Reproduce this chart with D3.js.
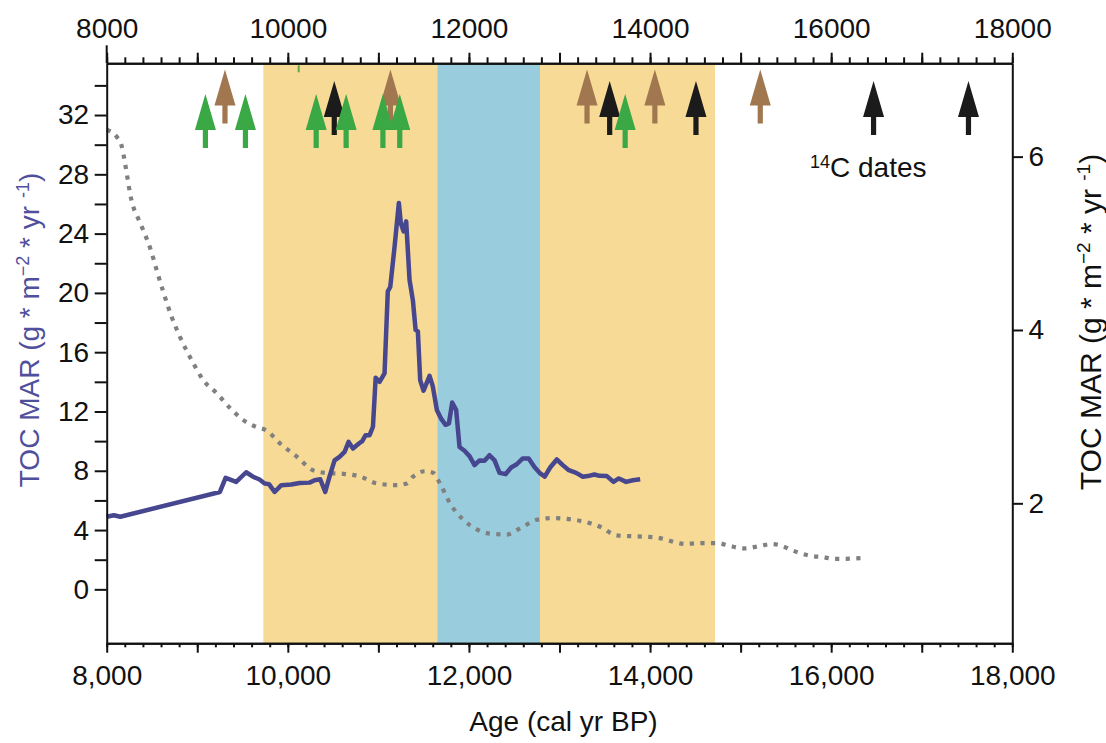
<!DOCTYPE html>
<meta charset="utf-8">
<script src="https://d3js.org/d3.v7.min.js"></script>
<html>
<head>
  <title>TOC MAR</title>
  <style>
    body { margin: 0; background: #fff; }
    text { font-family: "Liberation Sans", Arial, sans-serif; }
  </style>
</head>
<body>
  <div id="my_dataviz"></div>
</body>
</html>

<script>
  // TOC MAR, left axis (age in cal yr BP, g m-2 yr-1)
  var tocAge = [8000, 8080, 8150, 9250, 9313, 9430, 9540, 9615, 9688, 9744, 9792, 9854, 9928, 10038, 10130,
    10240, 10296, 10358, 10413, 10460, 10516, 10571, 10627, 10671, 10719, 10785, 10822, 10859, 10903, 10940,
    10970, 11013, 11068, 11104, 11131, 11179, 11226, 11248, 11278, 11307, 11344, 11381, 11411, 11436, 11462,
    11499, 11565, 11601, 11646, 11694, 11742, 11779, 11815, 11859, 11896, 11951, 12006, 12062, 12117, 12172,
    12227, 12283, 12338, 12404, 12466, 12528, 12594, 12660, 12723, 12787, 12837, 12897, 12970, 13036, 13103,
    13184, 13258, 13313, 13386, 13442, 13523, 13596, 13655, 13736, 13810, 13891];
  var tocValue = [4.9, 5.0, 4.9, 6.57, 7.52, 7.25, 7.9, 7.6, 7.41, 7.14, 7.1, 6.57, 7.03, 7.07, 7.18,
    7.2, 7.36, 7.43, 6.57, 7.6, 8.7, 8.94, 9.28, 9.95, 9.5, 9.84, 10.0, 10.4, 10.4, 10.97,
    14.28, 14.0, 14.57, 20.1, 20.4, 23.13, 26.06, 24.7, 24.15, 24.83, 20.88, 19.5, 17.5, 17.4, 14.1,
    13.4, 14.4, 13.7, 12.1, 11.5, 11.1, 11.2, 12.6, 12.1, 9.6, 9.35, 8.99, 8.38, 8.7, 8.67,
    9.05, 8.7, 7.86, 7.77, 8.22, 8.44, 8.83, 8.83, 8.26, 7.82, 7.6, 8.22, 8.76, 8.38, 8.04,
    7.86, 7.6, 7.64, 7.75, 7.66, 7.64, 7.25, 7.48, 7.25, 7.36, 7.43];

  // dotted curve, right axis
  var dotAge = [8000, 8110, 8166, 8197, 8227, 8257, 8294, 8346, 8404, 8497, 8552, 8625, 8718, 8809, 8939,
    9067, 9215, 9362, 9508, 9656, 9767, 9914, 10098, 10281, 10429, 10613, 10797, 10981, 11202, 11313,
    11386, 11515, 11607, 11680, 11791, 11938, 12086, 12233, 12417, 12564, 12748, 12932, 13080, 13263, 13447,
    13632, 13815, 14036, 14184, 14275, 14397, 14515, 14754, 14872, 15043, 15222, 15336, 15454, 15564, 15675,
    15792, 15906, 16023, 16142, 16374];
  var dotValue = [6.31, 6.23, 6.12, 5.96, 5.77, 5.58, 5.42, 5.29, 5.15, 4.89, 4.69, 4.44, 4.15, 3.92, 3.65,
    3.42, 3.27, 3.10, 2.96, 2.88, 2.84, 2.69, 2.54, 2.38, 2.35, 2.34, 2.31, 2.23, 2.21, 2.23,
    2.31, 2.37, 2.35, 2.23, 2.00, 1.81, 1.70, 1.65, 1.64, 1.71, 1.81, 1.83, 1.82, 1.79, 1.73,
    1.63, 1.62, 1.61, 1.58, 1.55, 1.53, 1.54, 1.54, 1.51, 1.48, 1.51, 1.53, 1.51, 1.46, 1.42,
    1.39, 1.38, 1.36, 1.36, 1.37];

  // shaded intervals
  var bandStart = [9730, 11650, 12785];
  var bandEnd = [11650, 12785, 14717];
  var bandKind = ["warm", "cold", "warm"];

  // 14C dates
  var greenDates = [9090, 9532, 10313, 10644, 11050, 11236, 13725];
  var brownDates = [9306, 11133, 13304, 14053, 15217];
  var blackDates = [10513, 13554, 14507, 16468, 17516];

  var leftTicks = [0, 4, 8, 12, 16, 20, 24, 28, 32];
  var rightTicks = [2, 4, 6];

  var W = 1106, H = 743;
  var margin = {top: 63.3, right: 93.7, bottom: 99.7, left: 106.7};
  var fontSize = "28px";

  var svg = d3.select("#my_dataviz")
    .append("svg")
      .attr("width", W)
      .attr("height", H);

  var x = d3.scaleLinear().domain([8000, 18000]).range([margin.left, W - margin.right]);
  var yL = d3.scaleLinear().domain([-3.64, 35.49]).range([H - margin.bottom, margin.top]);
  var yR = d3.scaleLinear().domain([0.385, 7.077]).range([H - margin.bottom, margin.top]);

  var bandColor = {warm: "#f6da96", cold: "#99cdde"};

  // bands
  svg.selectAll(".band")
    .data(d3.range(bandStart.length))
    .enter()
    .append("rect")
      .attr("class", "band")
      .attr("x", function(i) { return x(bandStart[i]); })
      .attr("width", function(i) { return x(bandEnd[i]) - x(bandStart[i]); })
      .attr("y", margin.top)
      .attr("height", H - margin.bottom - margin.top)
      .style("fill", function(i) { return bandColor[bandKind[i]]; });

  // small green mark under top axis
  svg.append("line")
    .attr("x1", x(10120)).attr("x2", x(10120))
    .attr("y1", margin.top + 2).attr("y2", margin.top + 9)
    .style("stroke", "#5aac4a")
    .style("stroke-width", 2);

  // dotted line
  var dotData = dotAge.map(function(a, i) { return [a, dotValue[i]]; });
  svg.append("path")
    .datum(dotData)
    .attr("d", d3.line()
      .x(function(d) { return x(d[0]); })
      .y(function(d) { return yR(d[1]); })
      .curve(d3.curveMonotoneX))
    .style("fill", "none")
    .style("stroke", "#808080")
    .style("stroke-width", 4.2)
    .style("stroke-dasharray", "4.2,6.4");

  // TOC MAR line
  var tocData = tocAge.map(function(a, i) { return [a, tocValue[i]]; });
  svg.append("path")
    .datum(tocData)
    .attr("d", d3.line()
      .x(function(d) { return x(d[0]); })
      .y(function(d) { return yL(d[1]); }))
    .style("fill", "none")
    .style("stroke", "#47478f")
    .style("stroke-width", 4.5)
    .style("stroke-linejoin", "round");

  // arrows
  function arrow(g, dates, color, tipY) {
    g.selectAll(null)
      .data(dates)
      .enter()
      .append("path")
        .attr("d", function(d) {
          var cx = x(d);
          return "M" + cx + "," + tipY +
            "L" + (cx + 10.5) + "," + (tipY + 36) +
            "L" + (cx + 2.6) + "," + (tipY + 36) +
            "L" + (cx + 2.6) + "," + (tipY + 54) +
            "L" + (cx - 2.6) + "," + (tipY + 54) +
            "L" + (cx - 2.6) + "," + (tipY + 36) +
            "L" + (cx - 10.5) + "," + (tipY + 36) + "Z";
        })
        .style("fill", color);
  }
  var arrows = svg.append("g");
  arrow(arrows, brownDates, "#a0774f", 69.5);
  arrow(arrows, blackDates, "#1b1b1b", 81);
  arrow(arrows, greenDates, "#3aa845", 94);

  // 14C dates label
  var lab = svg.append("text")
    .attr("x", 810)
    .attr("y", 177)
    .style("font-size", fontSize)
    .style("fill", "#111");
  lab.append("tspan").text("14").style("font-size", "18px").attr("dy", -9);
  lab.append("tspan").text("C dates").attr("dy", 9);

  // axes
  function styleAxis(g) {
    g.selectAll("path, line").style("stroke", "#111").style("stroke-width", 2);
    g.selectAll("text").style("font-size", fontSize).style("fill", "#111")
      .style("font-family", "'Liberation Sans', Arial, sans-serif");
  }

  var bottomY = H - margin.bottom;
  var rightX = W - margin.right;

  // bottom
  svg.append("g")
    .attr("transform", "translate(0," + bottomY + ")")
    .call(d3.axisBottom(x).tickValues(d3.range(8000, 18001, 200)).tickSize(4).tickSizeOuter(0).tickFormat(""))
    .call(styleAxis);
  svg.append("g")
    .attr("transform", "translate(0," + bottomY + ")")
    .call(d3.axisBottom(x).tickValues(d3.range(8000, 18001, 1000)).tickSize(9.4).tickSizeOuter(0).tickPadding(12.4)
      .tickFormat(function(d) { return d % 2000 === 0 ? d3.format(",")(d) : ""; }))
    .call(styleAxis);

  // top
  svg.append("g")
    .attr("transform", "translate(0," + margin.top + ")")
    .call(d3.axisTop(x).tickValues(d3.range(8000, 18001, 200)).tickSize(6).tickSizeOuter(0).tickFormat(""))
    .call(styleAxis);
  svg.append("g")
    .attr("transform", "translate(0," + margin.top + ")")
    .call(d3.axisTop(x).tickValues(d3.range(8000, 18001, 1000)).tickSize(10.6).tickSizeOuter(0).tickPadding(14.7)
      .tickFormat(function(d) { return d % 2000 === 0 ? String(d) : ""; }))
    .call(styleAxis);

  // left
  svg.append("g")
    .attr("transform", "translate(" + margin.left + ",0)")
    .call(d3.axisLeft(yL).tickValues(d3.range(0, 35, 2)).tickSize(12).tickSizeOuter(0).tickPadding(5.5)
      .tickFormat(function(d) { return leftTicks.indexOf(d) >= 0 ? d : ""; }))
    .call(styleAxis);
  svg.append("line")
    .attr("x1", margin.left).attr("x2", margin.left)
    .attr("y1", margin.top - 18).attr("y2", margin.top)
    .style("stroke", "#111").style("stroke-width", 2);

  // right
  svg.append("g")
    .attr("transform", "translate(" + rightX + ",0)")
    .call(d3.axisRight(yR).tickValues(rightTicks).tickSize(10.7).tickSizeOuter(0).tickPadding(5.5)
      .tickFormat(d3.format("d")))
    .call(styleAxis);

  // axis titles
  svg.append("text")
    .attr("x", (margin.left + rightX) / 2 + 4)
    .attr("y", 731)
    .attr("text-anchor", "middle")
    .style("font-size", fontSize)
    .style("fill", "#111")
    .text("Age (cal yr BP)");

  function unitTitle(xPos, yPos, color, size, supSize, shift) {
    var t = svg.append("text")
      .attr("transform", "translate(" + xPos + "," + yPos + ") rotate(-90)")
      .attr("text-anchor", "middle")
      .style("font-size", size)
      .style("fill", color);
    t.append("tspan").text("TOC MAR (g * m");
    t.append("tspan").text("\u22122").style("font-size", supSize).attr("dy", -shift);
    t.append("tspan").text(" * yr ").attr("dy", shift);
    t.append("tspan").text("-1").style("font-size", supSize).attr("dy", -shift);
    t.append("tspan").text(")").attr("dy", shift);
  }
  unitTitle(39, 330, "#4f4f9c", "28px", "18px", 10);
  unitTitle(1101, 322, "#111", "30px", "19px", 11);
</script>
